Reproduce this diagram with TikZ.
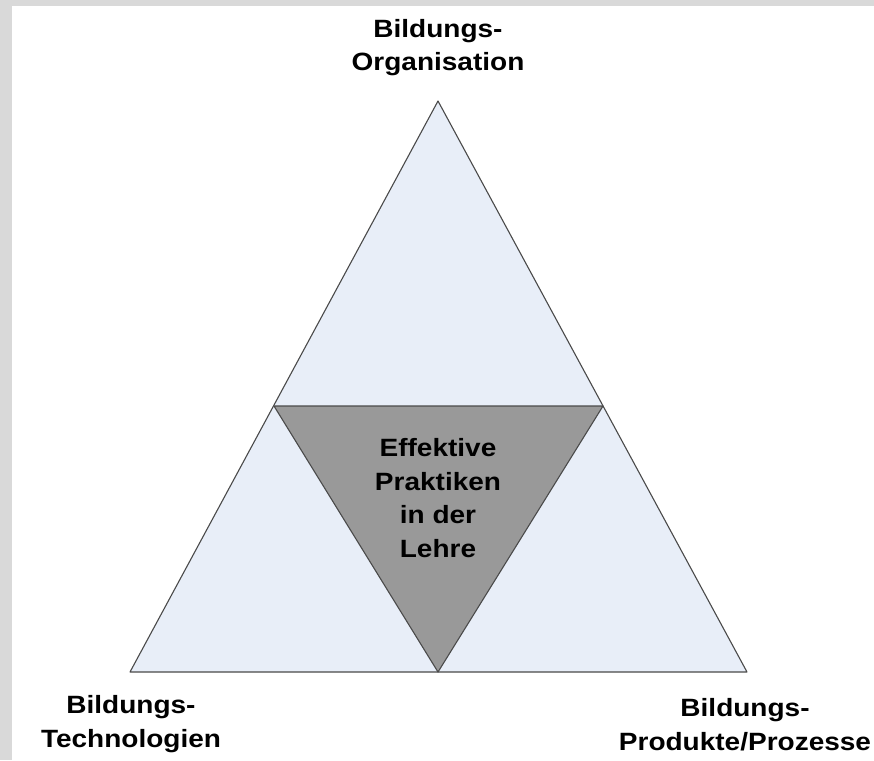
\documentclass[tikz,border=0pt]{standalone}
\usepackage{fontspec}
\setmainfont{Liberation Sans}[FakeStretch=1.12]
\usetikzlibrary{calc}
\definecolor{paleblue}{HTML}{E8EEF8}
\definecolor{midgray}{HTML}{999999}
\definecolor{edgegray}{HTML}{4A4A4A}
\definecolor{framegray}{HTML}{D9D9D9}

\begin{document}
\begin{tikzpicture}[x=1pt,y=-1pt,
  label/.style={align=center,inner sep=0pt,font=\fontsize{25}{33.5}\selectfont\bfseries},
  part/.style={draw=edgegray,line width=1.1pt,line join=round,fill=paleblue},
  core/.style={draw=edgegray,line width=1.1pt,line join=round,fill=midgray}]
  \useasboundingbox (0,0) rectangle (874,760);
  \fill[framegray] (0,0) rectangle (874,760);
  \fill[white] (12,6) rectangle (874,760);
  % corners of the big triangle and of the inner one
  \coordinate (apex) at (438,101);
  \coordinate (lcorner) at (130,672);
  \coordinate (rcorner) at (747,672);
  \coordinate (lmid) at (274,406);
  \coordinate (rmid) at (603,406);
  \coordinate (bmid) at (438,672);
  \draw[part] (apex) -- (rcorner) -- (lcorner) -- cycle;
  \draw[core] (lmid) -- (rmid) -- (bmid) -- cycle;
  \node[label] (orga) at (438,47.5) {Bildungs-\\Organisation};
  \node[label] (tech) at (131,724) {Bildungs-\\Technologien};
  \node[label] (prod) at (745,724.5) {Bildungs-\\Produkte/Prozesse};
  \node[label] (praxis) at (438,498) {Effektive\\Praktiken\\in der\\Lehre};
\end{tikzpicture}
\end{document}
